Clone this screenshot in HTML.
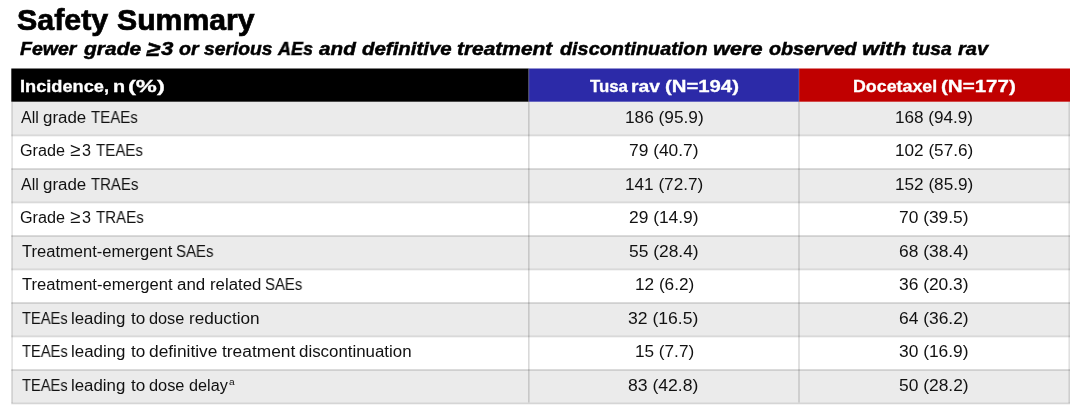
<!DOCTYPE html>
<html><head><meta charset="utf-8">
<style>
*{margin:0;padding:0;box-sizing:border-box}
html,body{width:1080px;height:410px;background:#fff;overflow:hidden;font-family:"Liberation Sans",sans-serif;color:#000}
.b{position:absolute}
.x{position:absolute;white-space:nowrap;line-height:1;transform-origin:0 0;will-change:transform}
.bd{font-size:16px;color:#111}
.h{color:#fff;font-weight:bold;font-size:16px;-webkit-text-stroke:0.3px #fff}
.tt{font-size:30px;font-weight:bold;-webkit-text-stroke:0.7px #000}
.st{font-size:19px;font-weight:bold;font-style:italic;-webkit-text-stroke:0.5px #000}
.sp{font-size:8.5px}
</style></head><body>
<svg class="b" style="left:0;top:0" width="1080" height="410" viewBox="0 0 1080 410"><rect x="11.30" y="101.70" width="1058.70" height="33.50" fill="#ebebeb"/><rect x="11.30" y="135.20" width="1058.70" height="33.50" fill="#fff"/><rect x="11.30" y="168.70" width="1058.70" height="33.50" fill="#ebebeb"/><rect x="11.30" y="202.20" width="1058.70" height="33.50" fill="#fff"/><rect x="11.30" y="235.70" width="1058.70" height="33.50" fill="#ebebeb"/><rect x="11.30" y="269.20" width="1058.70" height="33.50" fill="#fff"/><rect x="11.30" y="302.70" width="1058.70" height="33.50" fill="#ebebeb"/><rect x="11.30" y="336.20" width="1058.70" height="33.50" fill="#fff"/><rect x="11.30" y="369.70" width="1058.70" height="33.50" fill="#ebebeb"/><rect x="11.30" y="68.50" width="517.50" height="33.20" fill="#000"/><rect x="528.80" y="68.50" width="270.20" height="33.20" fill="#2c2aa8"/><rect x="799.00" y="68.50" width="271.00" height="33.20" fill="#c00000"/><rect x="11.30" y="134.70" width="1058.70" height="1.60" fill="#000" fill-opacity="0.15"/><rect x="11.30" y="168.20" width="1058.70" height="1.60" fill="#000" fill-opacity="0.15"/><rect x="11.30" y="201.70" width="1058.70" height="1.60" fill="#000" fill-opacity="0.15"/><rect x="11.30" y="235.20" width="1058.70" height="1.60" fill="#000" fill-opacity="0.15"/><rect x="11.30" y="268.70" width="1058.70" height="1.60" fill="#000" fill-opacity="0.15"/><rect x="11.30" y="302.20" width="1058.70" height="1.60" fill="#000" fill-opacity="0.15"/><rect x="11.30" y="335.70" width="1058.70" height="1.60" fill="#000" fill-opacity="0.15"/><rect x="11.30" y="369.20" width="1058.70" height="1.60" fill="#000" fill-opacity="0.15"/><rect x="11.30" y="402.70" width="1058.70" height="1.60" fill="#000" fill-opacity="0.15"/><rect x="528.00" y="101.70" width="1.60" height="300.70" fill="#000" fill-opacity="0.15"/><rect x="798.20" y="101.70" width="1.60" height="300.70" fill="#000" fill-opacity="0.15"/><rect x="11.30" y="101.70" width="1.60" height="301.50" fill="#000" fill-opacity="0.12"/><rect x="1068.40" y="101.70" width="1.60" height="301.50" fill="#000" fill-opacity="0.12"/><rect x="528.30" y="68.50" width="1.00" height="33.20" fill="#bbb" fill-opacity="0.3"/><rect x="798.50" y="68.50" width="1.00" height="33.20" fill="#bbb" fill-opacity="0.3"/></svg>
<div class="x tt" style="left:16.78px;top:5.00px;transform:scaleX(1.0130)">Safety</div>
<div class="x tt" style="left:117.19px;top:5.00px;transform:scaleX(1.0066)">Summary</div>
<div class="x st" style="left:19.60px;top:39.00px;transform:scaleX(1.0250)">Fewer</div>
<div class="x st" style="left:83.50px;top:39.00px;transform:scaleX(1.1038)">grade</div>
<div class="x st" style="left:146.54px;top:38.15px;transform:scaleX(1.1385);font-size:21px"><span style="display:inline-block;transform:skewX(-11deg)">≥</span></div>
<div class="x st" style="left:160.70px;top:39.00px;transform:scaleX(1.1727)">3</div>
<div class="x st" style="left:178.90px;top:39.00px;transform:scaleX(1.0300)">or</div>
<div class="x st" style="left:203.90px;top:39.00px;transform:scaleX(1.0149)">serious</div>
<div class="x st" style="left:278.41px;top:39.00px;transform:scaleX(0.9448)">AEs</div>
<div class="x st" style="left:319.10px;top:39.00px;transform:scaleX(1.0882)">and</div>
<div class="x st" style="left:361.80px;top:39.00px;transform:scaleX(1.0757)">definitive</div>
<div class="x st" style="left:456.70px;top:39.00px;transform:scaleX(1.1000)">treatment</div>
<div class="x st" style="left:560.40px;top:39.00px;transform:scaleX(1.0433)">discontinuation</div>
<div class="x st" style="left:712.86px;top:39.00px;transform:scaleX(1.1429)">were</div>
<div class="x st" style="left:769.40px;top:39.00px;transform:scaleX(1.0376)">observed</div>
<div class="x st" style="left:862.44px;top:39.00px;transform:scaleX(1.1629)">with</div>
<div class="x st" style="left:911.59px;top:39.00px;transform:scaleX(1.0132)">tusa</div>
<div class="x st" style="left:957.80px;top:39.00px;transform:scaleX(1.0567)">rav</div>
<div class="x h" style="left:20.26px;top:79.00px;transform:scaleX(1.1379)">Incidence,</div>
<div class="x h" style="left:112.76px;top:79.00px;transform:scaleX(1.2375)">n</div>
<div class="x h" style="left:127.72px;top:79.00px;transform:scaleX(1.4777)">(%)</div>
<div class="x h" style="left:590.20px;top:79.00px;transform:scaleX(1.0500)">Tusa</div>
<div class="x h" style="left:630.90px;top:79.00px;transform:scaleX(1.2043)">rav</div>
<div class="x h" style="left:665.13px;top:79.00px;transform:scaleX(1.2692)">(N=194)</div>
<div class="x h" style="left:852.79px;top:79.00px;transform:scaleX(1.1135)">Docetaxel</div>
<div class="x h" style="left:940.82px;top:79.00px;transform:scaleX(1.2842)">(N=177)</div>
<div class="x bd" style="left:20.80px;top:110.00px;transform:scaleX(0.9941)">All</div>
<div class="x bd" style="left:42.74px;top:110.00px;transform:scaleX(1.0564)">grade</div>
<div class="x bd" style="left:90.80px;top:110.00px;transform:scaleX(0.9408)">TEAEs</div>
<div class="x bd" style="left:19.79px;top:143.00px;transform:scaleX(1.0116)">Grade</div>
<div class="x bd" style="left:70.23px;top:140.70px;transform:scaleX(0.9667);font-size:18.7px">≥</div>
<div class="x bd" style="left:81.79px;top:143.00px;transform:scaleX(1.0110)">3</div>
<div class="x bd" style="left:95.80px;top:143.00px;transform:scaleX(0.9441)">TEAEs</div>
<div class="x bd" style="left:20.80px;top:177.00px;transform:scaleX(0.9941)">All</div>
<div class="x bd" style="left:42.74px;top:177.00px;transform:scaleX(1.0564)">grade</div>
<div class="x bd" style="left:90.80px;top:177.00px;transform:scaleX(0.9340)">TRAEs</div>
<div class="x bd" style="left:19.79px;top:210.00px;transform:scaleX(1.0116)">Grade</div>
<div class="x bd" style="left:70.23px;top:207.70px;transform:scaleX(0.9667);font-size:18.7px">≥</div>
<div class="x bd" style="left:81.79px;top:210.00px;transform:scaleX(1.0110)">3</div>
<div class="x bd" style="left:95.60px;top:210.00px;transform:scaleX(0.9420)">TRAEs</div>
<div class="x bd" style="left:21.80px;top:244.00px;transform:scaleX(1.0345)">Treatment-emergent</div>
<div class="x bd" style="left:176.46px;top:244.00px;transform:scaleX(0.9368)">SAEs</div>
<div class="x bd" style="left:21.80px;top:277.00px;transform:scaleX(1.0366)">Treatment-emergent</div>
<div class="x bd" style="left:176.74px;top:277.00px;transform:scaleX(1.0560)">and</div>
<div class="x bd" style="left:209.65px;top:277.00px;transform:scaleX(1.0489)">related</div>
<div class="x bd" style="left:265.37px;top:277.00px;transform:scaleX(0.9316)">SAEs</div>
<div class="x bd" style="left:21.50px;top:311.00px;transform:scaleX(0.9184)">TEAEs</div>
<div class="x bd" style="left:70.65px;top:311.00px;transform:scaleX(1.0520)">leading</div>
<div class="x bd" style="left:130.70px;top:311.00px;transform:scaleX(1.0692)">to</div>
<div class="x bd" style="left:149.38px;top:311.00px;transform:scaleX(1.0182)">dose</div>
<div class="x bd" style="left:188.73px;top:311.00px;transform:scaleX(1.0734)">reduction</div>
<div class="x bd" style="left:21.70px;top:344.00px;transform:scaleX(0.9204)">TEAEs</div>
<div class="x bd" style="left:70.55px;top:344.00px;transform:scaleX(1.0540)">leading</div>
<div class="x bd" style="left:130.70px;top:344.00px;transform:scaleX(1.0692)">to</div>
<div class="x bd" style="left:149.32px;top:344.00px;transform:scaleX(1.0836)">definitive</div>
<div class="x bd" style="left:222.40px;top:344.00px;transform:scaleX(1.0836)">treatment</div>
<div class="x bd" style="left:299.15px;top:344.00px;transform:scaleX(1.0543)">discontinuation</div>
<div class="x bd" style="left:21.50px;top:378.00px;transform:scaleX(0.9184)">TEAEs</div>
<div class="x bd" style="left:70.65px;top:378.00px;transform:scaleX(1.0520)">leading</div>
<div class="x bd" style="left:130.80px;top:378.00px;transform:scaleX(1.0692)">to</div>
<div class="x bd" style="left:149.18px;top:378.00px;transform:scaleX(1.0212)">dose</div>
<div class="x bd" style="left:189.19px;top:378.00px;transform:scaleX(1.0135)">delay</div>
<div class="x bd sp" style="left:228.90px;top:378.00px;transform:scaleX(1.2000)">a</div>
<div class="x bd" style="left:624.88px;top:110.00px;transform:scaleX(1.0788)">186 (95.9)</div>
<div class="x bd" style="left:894.83px;top:110.00px;transform:scaleX(1.0704)">168 (94.9)</div>
<div class="x bd" style="left:629.13px;top:143.00px;transform:scaleX(1.0864)">79 (40.7)</div>
<div class="x bd" style="left:895.36px;top:143.00px;transform:scaleX(1.0725)">102 (57.6)</div>
<div class="x bd" style="left:625.36px;top:177.00px;transform:scaleX(1.0725)">141 (72.7)</div>
<div class="x bd" style="left:895.36px;top:177.00px;transform:scaleX(1.0725)">152 (85.9)</div>
<div class="x bd" style="left:629.13px;top:210.00px;transform:scaleX(1.0864)">29 (14.9)</div>
<div class="x bd" style="left:899.13px;top:210.00px;transform:scaleX(1.0864)">70 (39.5)</div>
<div class="x bd" style="left:629.07px;top:244.00px;transform:scaleX(1.0876)">55 (28.4)</div>
<div class="x bd" style="left:899.07px;top:244.00px;transform:scaleX(1.0876)">68 (38.4)</div>
<div class="x bd" style="left:635.09px;top:277.00px;transform:scaleX(1.0743)">12 (6.2)</div>
<div class="x bd" style="left:899.14px;top:277.00px;transform:scaleX(1.0863)">36 (20.3)</div>
<div class="x bd" style="left:628.38px;top:311.00px;transform:scaleX(1.0989)">32 (16.5)</div>
<div class="x bd" style="left:899.07px;top:311.00px;transform:scaleX(1.0876)">64 (36.2)</div>
<div class="x bd" style="left:635.02px;top:344.00px;transform:scaleX(1.0726)">15 (7.7)</div>
<div class="x bd" style="left:899.14px;top:344.00px;transform:scaleX(1.0863)">30 (16.9)</div>
<div class="x bd" style="left:628.39px;top:378.00px;transform:scaleX(1.0992)">83 (42.8)</div>
<div class="x bd" style="left:899.07px;top:378.00px;transform:scaleX(1.0876)">50 (28.2)</div>
</body></html>
